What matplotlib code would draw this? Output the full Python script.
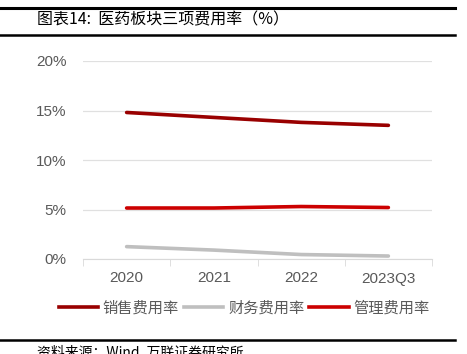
import matplotlib.pyplot as plt
from matplotlib.lines import Line2D

plt.rcParams['font.family'] = ['Noto Sans CJK SC', 'DejaVu Sans']

categories = ["2020", "2021", "2022", "2023Q3"]
sales_rate = [14.8, 14.3, 13.8, 13.5]
finance_rate = [1.25, 0.9, 0.45, 0.3]
admin_rate = [5.15, 5.15, 5.3, 5.2]
yticks = [0, 5, 10, 15, 20]

fig = plt.figure(figsize=(4.67, 3.54), dpi=100)
ax = fig.add_axes([83 / 467, 1 - 259 / 354, (432 - 83) / 467, (259 - 61) / 354])

x = range(len(categories))
ax.plot(x, sales_rate, color="#990000", lw=2.6, solid_capstyle="round", label="销售费用率")
ax.plot(x, finance_rate, color="#bfbfbf", lw=2.6, solid_capstyle="round", label="财务费用率")
ax.plot(x, admin_rate, color="#cc0000", lw=2.6, solid_capstyle="round", label="管理费用率")

ax.set_xlim(-0.5, len(categories) - 0.5)
ax.set_ylim(0, 20)
ax.set_yticks(yticks)
ax.set_yticklabels([f"{v}%" for v in yticks], family="Liberation Sans")
ax.set_xticks(x)
ax.set_xticklabels(categories, family="Liberation Sans")
ax.set_xticks([i - 0.5 for i in range(len(categories) + 1)], minor=True)
ax.grid(axis="y", color="#e0e0e0", lw=0.9)
ax.set_axisbelow(True)
for s in ["top", "right", "left"]:
    ax.spines[s].set_visible(False)
ax.spines["bottom"].set_color("#d9d9d9")
ax.tick_params(axis="y", length=0, pad=12, labelsize=11, labelcolor="#595959")
ax.tick_params(axis="x", which="major", length=0, pad=9, labelsize=11, labelcolor="#595959")
ax.tick_params(axis="x", which="minor", length=5, color="#d9d9d9")

handles = [Line2D([], [], color=c, lw=2.6) for c in ["#990000", "#bfbfbf", "#cc0000"]]
fig.legend(handles, ["销售费用率", "财务费用率", "管理费用率"], loc="center",
           bbox_to_anchor=(244 / 467, 1 - 308 / 354), ncol=3, frameon=False,
           handlelength=2.6, handletextpad=0.3, columnspacing=0.3,
           prop={"size": 11}, labelcolor="#595959")

# header and footer rules
for yy, lw in [(8, 2.2), (35, 1.8), (340, 1.8)]:
    fig.add_artist(Line2D([0, 455 / 467], [1 - yy / 354] * 2, color="black", lw=lw))
fig.text(37 / 467, 1 - 20 / 354, "图表14:  医药板块三项费用率（%）", fontsize=11.5, va="center")
fig.text(37 / 467, 1 - 352 / 354, "资料来源：Wind, 万联证券研究所", fontsize=10, va="center", style="italic")

fig.savefig("out.png", dpi=100)
